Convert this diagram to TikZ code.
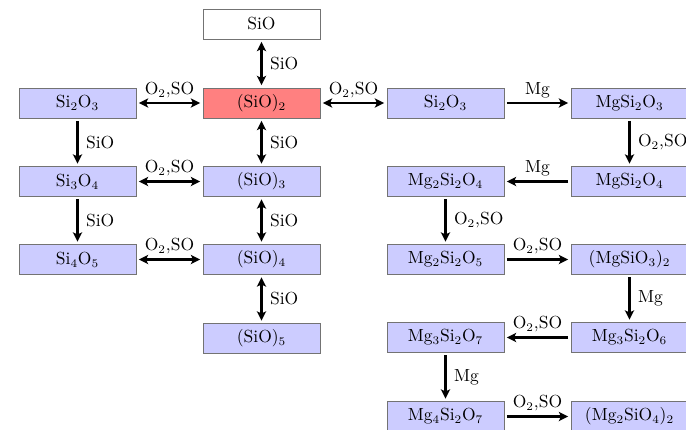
\documentclass[tikz,border=0pt]{standalone}
\usetikzlibrary{arrows.meta}
\begin{document}
\begin{tikzpicture}[x=0.6pt,y=-0.6pt,
  font=\fontsize{10.5}{12.6}\selectfont,
  box/.style={draw=black!55,line width=0.5pt,fill=blue!20,minimum width=70.2pt,minimum height=18pt,inner sep=0pt},
  redbox/.style={box,fill=red!50},
  whitebox/.style={box,fill=white},
  arr/.style={line width=1.3pt,-{Stealth[length=5.5pt,width=5.5pt,inset=1.2pt]},shorten >=1.5pt,shorten <=1.5pt},
  darr/.style={arr,{Stealth[length=5.5pt,width=5.5pt,inset=1.2pt]}-{Stealth[length=5.5pt,width=5.5pt,inset=1.2pt]}},
  lab/.style={inner sep=2.5pt}
]
\useasboundingbox (0,0) rectangle (686,430);
% column 2
\node[whitebox] (sio) at (261.5,24) {SiO};
\node[redbox] (sio2) at (261.5,103) {(SiO)$_2$};
\node[box] (sio3) at (261.5,181.5) {(SiO)$_3$};
\node[box] (sio4) at (261.5,259.5) {(SiO)$_4$};
\node[box] (sio5) at (261.5,338.5) {(SiO)$_5$};
% column 1
\node[box] (a23) at (77.5,103) {Si$_2$O$_3$};
\node[box] (a34) at (77.5,181.5) {Si$_3$O$_4$};
\node[box] (a45) at (77.5,259.5) {Si$_4$O$_5$};
% column 3
\node[box] (b23) at (445.5,103) {Si$_2$O$_3$};
\node[box] (m224) at (445.5,181.5) {Mg$_2$Si$_2$O$_4$};
\node[box] (m225) at (445.5,259.5) {Mg$_2$Si$_2$O$_5$};
\node[box] (m327) at (445.5,337.5) {Mg$_3$Si$_2$O$_7$};
\node[box] (m427) at (445.5,416.5) {Mg$_4$Si$_2$O$_7$};
% column 4
\node[box] (m123) at (629.5,103) {MgSi$_2$O$_3$};
\node[box] (m124) at (629.5,181.5) {MgSi$_2$O$_4$};
\node[box] (ms32) at (629.5,259.5) {(MgSiO$_3$)$_2$};
\node[box] (m326) at (629.5,337.5) {Mg$_3$Si$_2$O$_6$};
\node[box] (m2s4) at (629.5,416.5) {(Mg$_2$SiO$_4$)$_2$};
% column 2 vertical
\draw[darr] (sio) -- node[right,lab,xshift=2pt] {SiO} (sio2);
\draw[darr] (sio2) -- node[right,lab,xshift=2pt] {SiO} (sio3);
\draw[darr] (sio3) -- node[right,lab,xshift=2pt] {SiO} (sio4);
\draw[darr] (sio4) -- node[right,lab,xshift=2pt] {SiO} (sio5);
% column 1
\draw[arr] (a23) -- node[right,lab,xshift=2pt] {SiO} (a34);
\draw[arr] (a34) -- node[right,lab,xshift=2pt] {SiO} (a45);
\draw[darr] (a23) -- node[above,lab] {O$_2$,SO} (sio2);
\draw[darr] (a34) -- node[above,lab] {O$_2$,SO} (sio3);
\draw[darr] (a45) -- node[above,lab] {O$_2$,SO} (sio4);
% right side
\draw[darr] (sio2) -- node[above,lab] {O$_2$,SO} (b23);
\draw[arr] (b23) -- node[above,lab] {Mg} (m123);
\draw[arr] (m123) -- node[right,lab,xshift=2pt] {O$_2$,SO} (m124);
\draw[arr] (m124) -- node[above,lab] {Mg} (m224);
\draw[arr] (m224) -- node[right,lab,xshift=2pt] {O$_2$,SO} (m225);
\draw[arr] (m225) -- node[above,lab] {O$_2$,SO} (ms32);
\draw[arr] (ms32) -- node[right,lab,xshift=2pt] {Mg} (m326);
\draw[arr] (m326) -- node[above,lab] {O$_2$,SO} (m327);
\draw[arr] (m327) -- node[right,lab,xshift=2pt] {Mg} (m427);
\draw[arr] (m427) -- node[above,lab] {O$_2$,SO} (m2s4);
\end{tikzpicture}
\end{document}
